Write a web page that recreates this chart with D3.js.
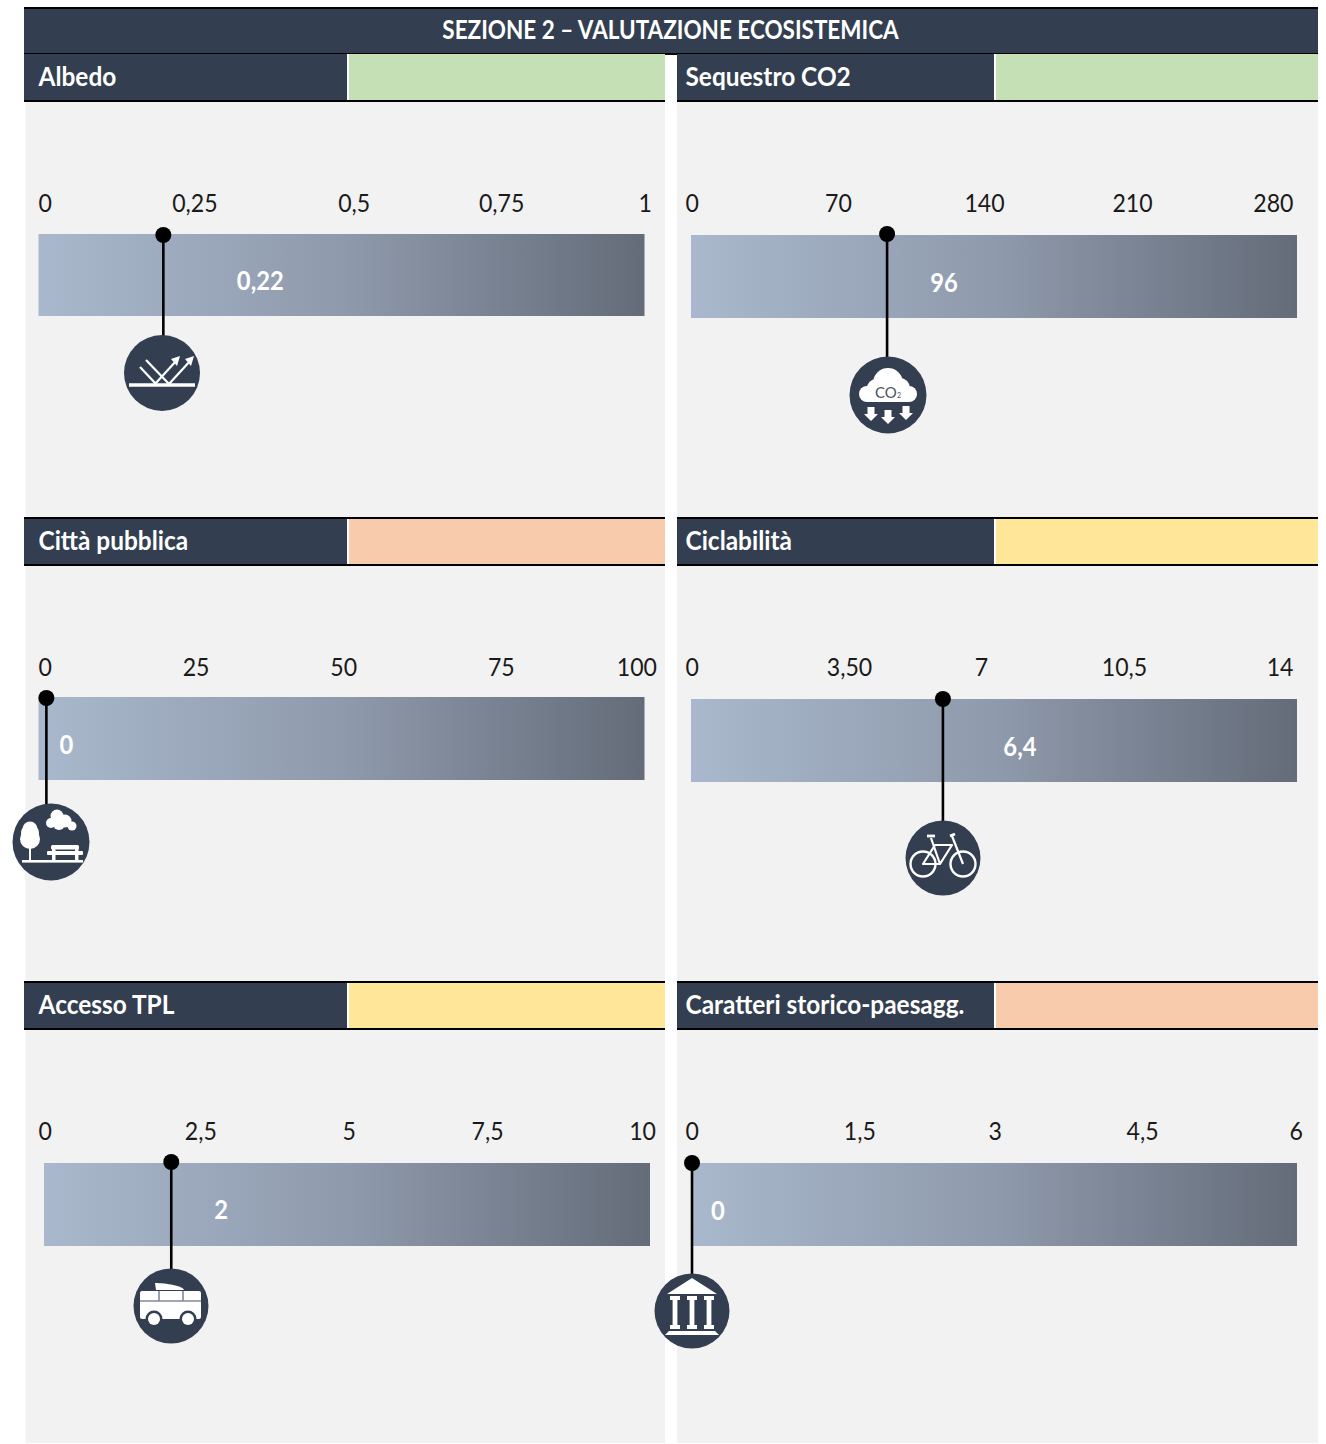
<!DOCTYPE html>
<html><head><meta charset="utf-8">
<script src="https://cdn.jsdelivr.net/npm/d3@7"></script>
<style>html,body{margin:0;padding:0;background:#fff}svg{display:block}text{font-family:Lato,"Open Sans",sans-serif}</style>
</head><body><div id="c"></div>
<script>
// ---------- data ----------
const sectionTitle = "SEZIONE 2 – VALUTAZIONE ECOSISTEMICA";
const indicators = ["Albedo","Sequestro CO2","Città pubblica","Ciclabilità","Accesso TPL","Caratteri storico-paesagg."];
const ratingColors = ["#C5E0B4","#C5E0B4","#F8CBAD","#FFE699","#FFE699","#F8CBAD"];
const scaleMax = [1,280,100,14,10,6];
const tickLabels = [
  ["0","0,25","0,5","0,75","1"],
  ["0","70","140","210","280"],
  ["0","25","50","75","100"],
  ["0","3,50","7","10,5","14"],
  ["0","2,5","5","7,5","10"],
  ["0","1,5","3","4,5","6"]
];
const valueLabels = ["0,22","96","0","6,4","2","0"];
const pointerValues = [0.206,90.6,1.3,5.82,2.1,0.01];
const iconNames = ["albedo","co2","park","bike","bus","temple"];

// ---------- layout ----------
const W=1326,H=1444;
const DARK="#333F50",BG="#F2F2F2",TXT="#1a1a1a";
const colX=[{x0:25.5,x1:665,hx0:24,split:347,tx:38.5},{x0:677,x1:1318,hx0:677,split:994,tx:685.5}];
const rowY=[54,518,982];
const bars=[[38.5,644.5,234,316],[691,1297,235,318],[38.5,644.5,697,780],[691,1297,699,782],[44,650,1163,1246],[691,1297,1163,1246]];
const tickRange=[[38.5,652],[685.5,1293.5],[38.5,657],[685.5,1293.5],[38.5,656],[685.5,1303]];
const tickNudge=[[0,3,9,3,0],[0,1,-5,-9,0],[0,3,-4,-1,0],[0,12,-8,-17,0],[0,8,2,-14,0],[0,20,1,-6,0]];
const tickY=[202.5,202.5,666.5,666.5,1130.5,1130.5];
const valueDX=[97,57,20,77,50,26],valueY=[279.5,281.5,743.5,745.5,1208.5,1209.5];
const iconPos=[[162,373,38],[888,395,38.5],[51,842,38.5],[943,858,37.5],[171,1306,37.5],[692,1311,37.5]];
const dotY=[235,234,698,699,1162,1163];

const svg=d3.select("#c").append("svg").attr("width",W).attr("height",H).attr("viewBox",[0,0,W,H]);
const defs=svg.append("defs");
const grad=defs.append("linearGradient").attr("id","barGrad");
grad.append("stop").attr("offset","0%").attr("stop-color","#A9B8CC");
grad.append("stop").attr("offset","50%").attr("stop-color","#8F9AAC");
grad.append("stop").attr("offset","100%").attr("stop-color","#646C79");

function label(g,str,x,y,opt){
  const o=Object.assign({size:25,sx:0.925,weight:400,fill:TXT,anchor:"start"},opt||{});
  return g.append("text").attr("transform",`translate(${x},${y}) scale(${o.sx},1)`)
    .attr("text-anchor",o.anchor).attr("dominant-baseline","central")
    .attr("font-size",o.size).attr("font-weight",o.weight).attr("fill",o.fill).text(str);
}

// panel backgrounds
colX.forEach(c=>svg.append("rect").attr("x",c.x0).attr("y",100).attr("width",c.x1-c.x0).attr("height",H-101).attr("fill",BG));

// title band
svg.append("rect").attr("x",24).attr("y",8).attr("width",1294).attr("height",46).attr("fill",DARK);
svg.append("rect").attr("x",24).attr("y",7).attr("width",1294).attr("height",2).attr("fill","#000");
svg.append("rect").attr("x",24).attr("y",53).attr("width",1294).attr("height",2).attr("fill","#000");
label(svg,sectionTitle,670.5,28,{size:27,weight:700,fill:"#fff",anchor:"middle",sx:0.833});

const icons={
  albedo(g){
    const line=(a,b,c,d,w)=>g.append("line").attr("x1",a).attr("y1",b).attr("x2",c).attr("y2",d).attr("stroke","#fff").attr("stroke-width",w||2.2);
    line(-33,12,33,12,3.6);
    line(-22,-6,-6,11);line(-16,-13,7,11);line(-7,11,15,-13);line(7,11,29,-13);
    [[18,-17],[32,-17]].forEach(p=>g.append("path").attr("d",`M${p[0]},${p[1]}l-9,3l6,7z`).attr("fill","#fff"));
  },
  co2(g){
    [[0,-12,15],[-21,-1,8],[21,-1,8],[-12,-7,9],[12,-7,10]].forEach(c=>g.append("circle").attr("cx",c[0]).attr("cy",c[1]).attr("r",c[2]).attr("fill","#fff"));
    g.append("rect").attr("x",-21).attr("y",-5).attr("width",42).attr("height",12).attr("fill","#fff");
    const t=g.append("text").attr("x",0).attr("y",-3).attr("text-anchor","middle").attr("dominant-baseline","central").attr("font-size",15).attr("fill","#4a5566");
    t.append("tspan").text("CO");
    t.append("tspan").attr("font-size",7).attr("dy",3).text("2");
    [[-17,12],[0,15],[18,11]].forEach(a=>g.append("path").attr("d",`M${a[0]-3.5},${a[1]}h7v7h3.5l-7,7l-7,-7h3.5z`).attr("fill","#fff"));
  },
  park(g){
    [[-21,-13,7.5],[-21,-3,10],[-21,-9,9]].forEach(c=>g.append("circle").attr("cx",c[0]).attr("cy",c[1]).attr("r",c[2]).attr("fill","#fff"));
    g.append("rect").attr("x",-22).attr("y",3).attr("width",2).attr("height",17).attr("fill","#fff");
    g.append("rect").attr("x",-29).attr("y",18).attr("width",61).attr("height",2.6).attr("fill","#fff");
    [[0,-19,5],[6,-26,6.5],[8,-18,6],[14,-21,6.5],[21,-16,4.5]].forEach(c=>g.append("circle").attr("cx",c[0]).attr("cy",c[1]).attr("r",c[2]).attr("fill","#fff"));
    g.append("rect").attr("x",0).attr("y",3).attr("width",28).attr("height",4.5).attr("rx",1.5).attr("fill","#fff");
    g.append("rect").attr("x",-4).attr("y",9).attr("width",36).attr("height",4).attr("rx",1).attr("fill","#fff");
    [1,24].forEach(x=>g.append("rect").attr("x",x).attr("y",5).attr("width",3.5).attr("height",14).attr("fill","#fff"));
  },
  bike(g){
    const st=(p,w)=>g.append("path").attr("d",p).attr("fill","none").attr("stroke","#fff").attr("stroke-width",w||2.2).attr("stroke-linejoin","round");
    [-20,20].forEach(x=>g.append("circle").attr("cx",x).attr("cy",6).attr("r",12.5).attr("fill","none").attr("stroke","#fff").attr("stroke-width",2.4));
    st("M-16,-22H-8",2.8);
    st("M-12,-20L-3,6H-20L-8,-13H9L-3,6");
    st("M7,-22L12,-24",2.8);
    st("M9,-22L20,6");
  },
  bus(g){
    g.append("path").attr("d","M-16,-23L-15,-16H13C12,-20 -5,-23 -16,-23Z").attr("fill","#fff");
    g.append("rect").attr("x",-31).attr("y",-15).attr("width",61).attr("height",28).attr("rx",2).attr("fill","#fff");
    g.append("path").attr("d","M-31,-5H30M-12,-15V-5M12,-15V-5").attr("stroke","#7f8a99").attr("stroke-width",1.6).attr("fill","none");
    [-17,17].forEach(x=>{
      g.append("circle").attr("cx",x).attr("cy",13).attr("r",8.5).attr("fill",DARK);
      g.append("circle").attr("cx",x).attr("cy",13).attr("r",6).attr("fill","#fff");
    });
  },
  temple(g){
    g.append("path").attr("d","M0,-33L-25,-17H25Z").attr("fill","#fff");
    [-17,0,17].forEach(x=>{
      g.append("rect").attr("x",x-5).attr("y",-15).attr("width",10).attr("height",4).attr("fill","#fff");
      g.append("rect").attr("x",x-2.4).attr("y",-11).attr("width",4.8).attr("height",25).attr("fill","#fff");
      g.append("rect").attr("x",x-5).attr("y",14).attr("width",10).attr("height",4).attr("fill","#fff");
    });
    g.append("path").attr("d","M-23,20H23L27,24H-27Z").attr("fill","#fff");
  }
};

indicators.forEach((name,i)=>{
  const c=colX[i%2],top=rowY[Math.floor(i/2)],b=bars[i];
  const g=svg.append("g");
  // header
  g.append("rect").attr("x",c.hx0).attr("y",top).attr("width",c.split-c.hx0).attr("height",46).attr("fill",DARK);
  g.append("rect").attr("x",c.split).attr("y",top).attr("width",2).attr("height",46).attr("fill","#fff");
  g.append("rect").attr("x",c.split+2).attr("y",top).attr("width",c.x1-c.split-2).attr("height",46).attr("fill",ratingColors[i]);
  if(top>54) g.append("rect").attr("x",c.hx0).attr("y",top-1).attr("width",c.x1-c.hx0).attr("height",2).attr("fill","#000");
  g.append("rect").attr("x",c.hx0).attr("y",top+46).attr("width",c.x1-c.hx0).attr("height",2).attr("fill","#000");
  label(g,name,c.tx,top+21.5,{size:27,weight:700,fill:"#fff",sx:0.905});

  // scales
  const x=d3.scaleLinear().domain([0,scaleMax[i]]).range([b[0],b[1]]);
  const tx=d3.scalePoint().domain(tickLabels[i]).range(tickRange[i]);
  // ticks
  tickLabels[i].forEach((t,k)=>{
    const a=k===0?"start":k===4?"end":"middle";
    label(g,t,tx(t)+tickNudge[i][k],tickY[i],{anchor:a});
  });
  // bar
  g.append("rect").attr("x",x(0)).attr("y",b[2]).attr("width",x(scaleMax[i])-x(0)).attr("height",b[3]-b[2]).attr("fill","url(#barGrad)");
  const px=x(pointerValues[i]);
  label(g,valueLabels[i],px+valueDX[i],valueY[i],{size:26,weight:700,fill:"#fff",anchor:"middle",sx:0.915});
  // pointer + icon
  const ip=iconPos[i];
  g.append("line").attr("x1",px).attr("x2",px).attr("y1",dotY[i]).attr("y2",ip[1]-ip[2]+1).attr("stroke","#000").attr("stroke-width",2.6);
  g.append("circle").attr("cx",px).attr("cy",dotY[i]).attr("r",8).attr("fill","#000");
  const ig=g.append("g").attr("transform",`translate(${ip[0]},${ip[1]})`);
  ig.append("circle").attr("r",ip[2]).attr("fill",DARK);
  icons[iconNames[i]](ig);
});
</script></body></html>
